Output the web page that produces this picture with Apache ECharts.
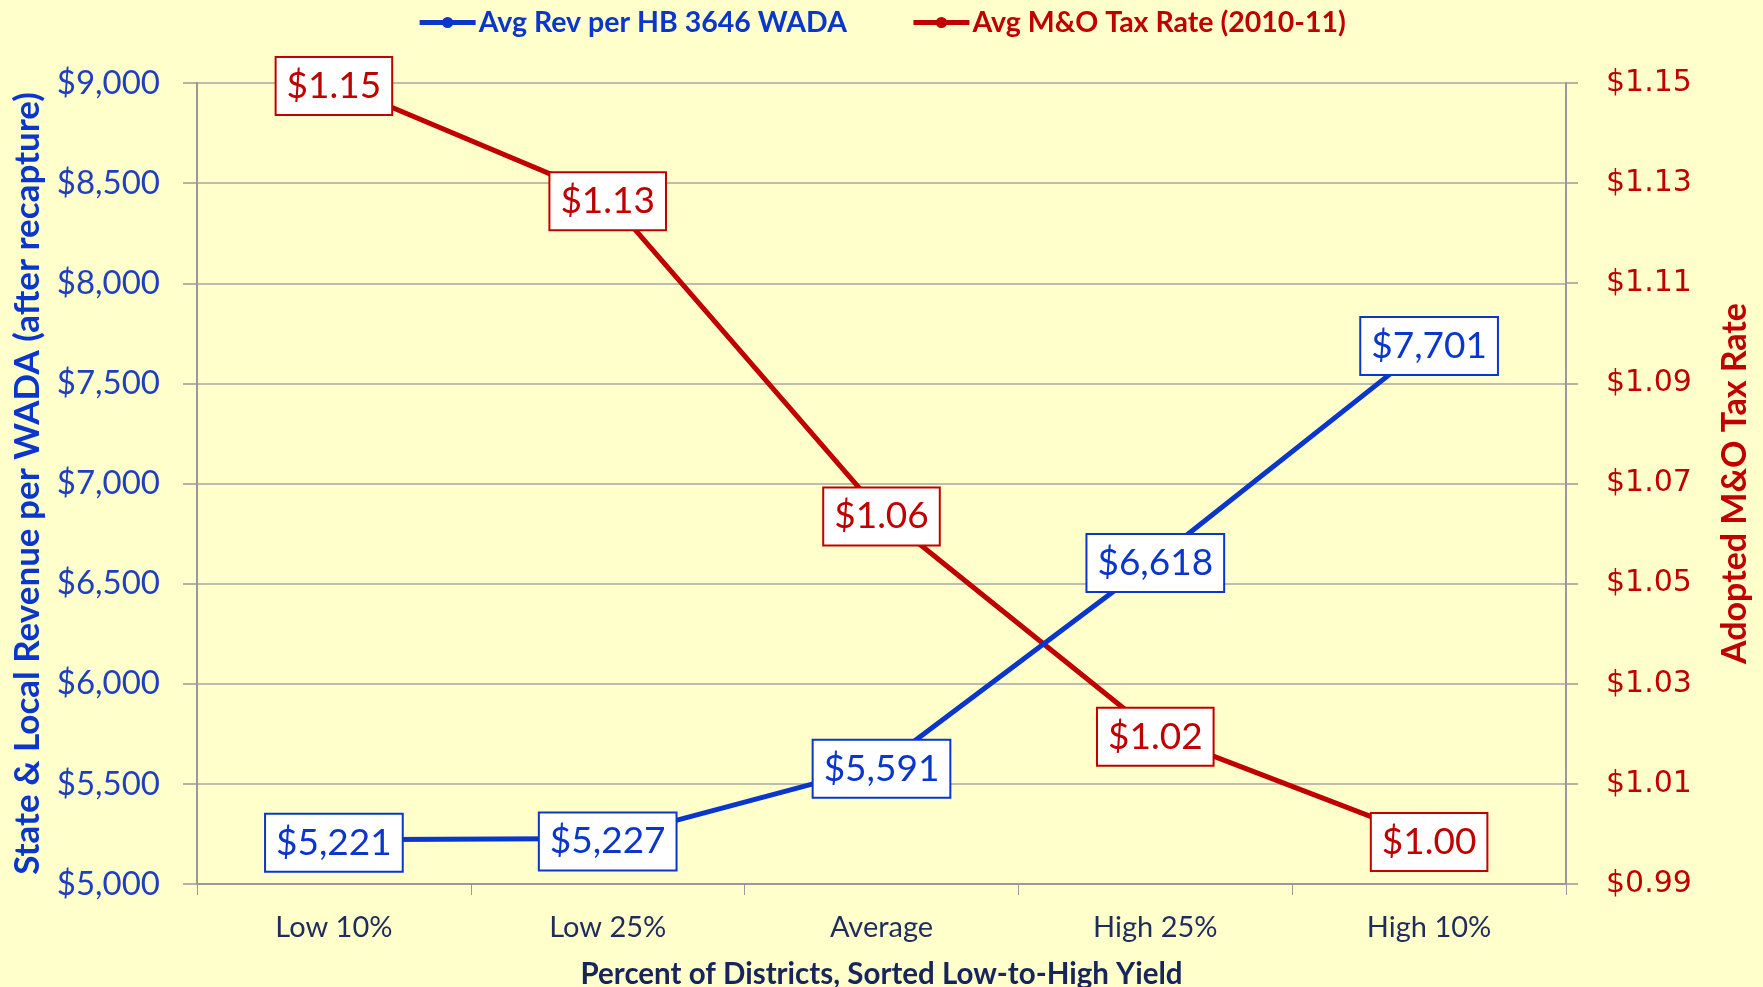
<!DOCTYPE html>
<html>
<head>
<meta charset="utf-8">
<script src="https://cdn.jsdelivr.net/npm/echarts@6/dist/echarts.min.js"></script>
<style>
html,body{margin:0;padding:0;background:#ffffcc;}
#chart{width:1763px;height:987px;}
</style>
</head>
<body>
<div id="chart"></div>
<script>
const categories = ['Low 10%', 'Low 25%', 'Average', 'High 25%', 'High 10%'];
const revenuePerWada = [5221, 5227, 5591, 6618, 7701];
const taxRate = [1.150, 1.127, 1.064, 1.020, 0.999];
const seriesNames = ['Avg Rev per HB 3646 WADA', 'Avg M&O Tax Rate (2010-11)'];

const BLUE = '#0a36cc';
const RED = '#c00000';
const FONT = 'Lato';

function money(v) {
  return '$' + Math.round(v).toLocaleString('en-US');
}
function rate(v) {
  return '$' + v.toFixed(2);
}

const labelBox = (color, fmt) => ({
  show: true,
  position: 'inside',
  offset: [0, 3],
  formatter: p => fmt(p.value),
  fontFamily: FONT,
  fontSize: 37,
  lineHeight: 40,
  color: color,
  backgroundColor: '#ffffff',
  borderColor: color,
  borderWidth: 2,
  padding: [8, 10, 8, 10]
});

const chart = echarts.init(document.getElementById('chart'), null, {renderer: 'canvas'});
chart.setOption({
  backgroundColor: '#ffffcc',
  animation: false,
  legend: {
    top: 3,
    left: 'center',
    itemWidth: 56,
    itemHeight: 14,
    itemGap: 64,
    lineStyle: {width: 5},
    data: [
      {name: seriesNames[0], textStyle: {color: BLUE}},
      {name: seriesNames[1], textStyle: {color: RED}}
    ],
    textStyle: {fontFamily: FONT, fontSize: 28.5, fontWeight: 'bold', padding: [0, 0, 0, -2]}
  },
  grid: {left: 197, right: 197, top: 83, bottom: 103, containLabel: false, outerBoundsMode: 'none'},
  xAxis: {
    type: 'category',
    data: categories,
    boundaryGap: true,
    axisLine: {lineStyle: {color: '#999999', width: 2}},
    axisTick: {show: true, length: 11, lineStyle: {color: '#999999', width: 1}},
    axisLabel: {fontFamily: FONT, fontSize: 29, color: '#1f2d5c', margin: 29},
    name: 'Percent of Districts, Sorted Low-to-High Yield',
    nameLocation: 'middle',
    nameGap: 75,
    nameTextStyle: {fontFamily: FONT, fontSize: 29.5, fontWeight: 'bold', color: '#17255a'}
  },
  yAxis: [
    {
      type: 'value',
      position: 'left',
      min: 5000, max: 9000, interval: 500,
      axisLine: {show: true, lineStyle: {color: '#999999', width: 2}},
      axisTick: {show: true, length: 14, lineStyle: {color: '#999999', width: 1.5}},
      splitLine: {show: true, lineStyle: {color: '#a6a6a6', width: 1.5}},
      axisLabel: {fontFamily: FONT, fontSize: 33, color: '#1f3fbf', margin: 37, formatter: v => money(v)},
      name: 'State & Local Revenue per WADA (after recapture)',
      nameLocation: 'middle',
      nameGap: 152,
      nameRotate: 90,
      nameTextStyle: {fontFamily: FONT, fontSize: 35, fontWeight: 'bold', color: BLUE}
    },
    {
      type: 'value',
      position: 'right',
      min: 0.99, max: 1.15, interval: 0.02,
      axisLine: {show: true, lineStyle: {color: '#999999', width: 2}},
      axisTick: {show: true, length: 12, lineStyle: {color: '#999999', width: 1.5}},
      splitLine: {show: false},
      axisLabel: {fontFamily: 'DejaVu Sans', fontSize: 30, color: RED, margin: 40, formatter: v => rate(v)},
      name: 'Adopted M&O Tax Rate',
      nameLocation: 'middle',
      nameGap: 152,
      nameRotate: 90,
      nameTextStyle: {fontFamily: FONT, fontSize: 34, fontWeight: 'bold', color: RED}
    }
  ],
  series: [
    {
      name: seriesNames[0],
      type: 'line',
      yAxisIndex: 0,
      data: revenuePerWada,
      symbol: 'circle',
      symbolSize: 10,
      itemStyle: {color: BLUE},
      lineStyle: {color: BLUE, width: 5},
      label: labelBox(BLUE, money),
      z: 3
    },
    {
      name: seriesNames[1],
      type: 'line',
      yAxisIndex: 1,
      data: taxRate,
      symbol: 'circle',
      symbolSize: 10,
      itemStyle: {color: RED},
      lineStyle: {color: RED, width: 5},
      label: labelBox(RED, rate),
      z: 2
    }
  ]
});
</script>
</body>
</html>
